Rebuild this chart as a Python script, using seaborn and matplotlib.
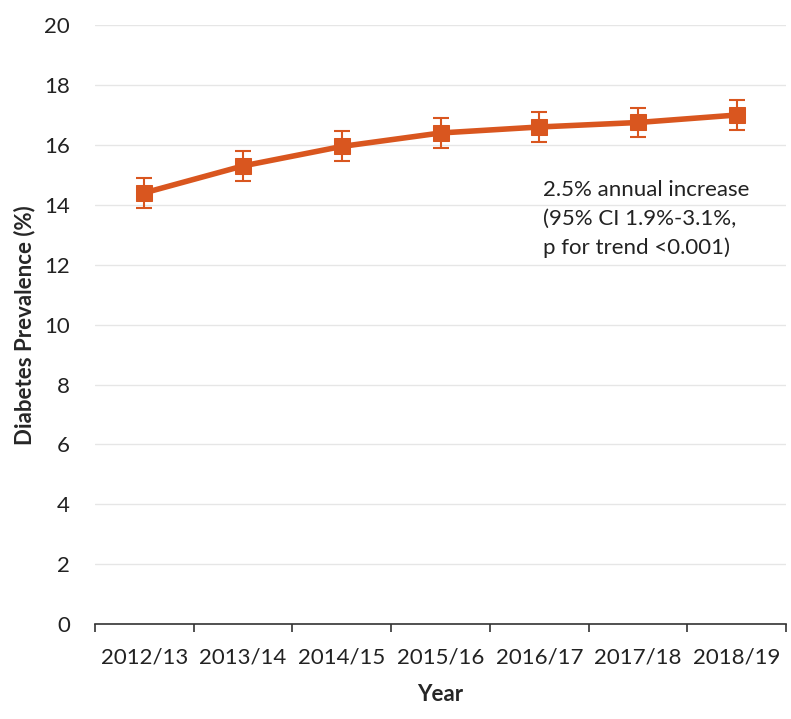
import matplotlib
matplotlib.use("Agg")
import matplotlib.pyplot as plt
import seaborn as sns
import pandas as pd
import numpy as np

years = ["2012/13", "2013/14", "2014/15", "2015/16", "2016/17", "2017/18", "2018/19"]
prevalence = [14.4, 15.3, 15.95, 16.4, 16.6, 16.75, 17.0]
ci_low = [13.9, 14.8, 15.45, 15.9, 16.1, 16.25, 16.5]
ci_high = [14.9, 15.8, 16.45, 16.9, 17.1, 17.25, 17.5]
yticks = [0, 2, 4, 6, 8, 10, 12, 14, 16, 18, 20]

sns.set_theme(style="white")
plt.rcParams['font.family'] = ['Lato', 'DejaVu Sans']

color = "#D9561F"
df = pd.DataFrame({"Year": years, "Prevalence": prevalence})

fig = plt.figure(figsize=(7.91, 7.19), dpi=100)
ax = fig.add_axes([0.120, 0.132, 0.874, 0.833])

x = np.arange(len(years))
err = [np.array(prevalence) - np.array(ci_low), np.array(ci_high) - np.array(prevalence)]
ax.errorbar(x, prevalence, yerr=err, fmt="none", ecolor=color, elinewidth=1.5,
            capsize=6, capthick=1.5, zorder=3)
sns.lineplot(data=df, x="Year", y="Prevalence", ax=ax, color=color, linewidth=4,
             marker="s", markersize=11, markeredgecolor=color, zorder=4, sort=False)

ax.set_xlim(-0.5, len(years) - 0.5)
ax.set_ylim(0, 20)
ax.set_yticks(yticks)
ax.set_yticklabels([str(t) for t in yticks], fontsize=16, color="#222222")
ax.set_xticks(x)
ax.set_xticklabels(years, fontsize=16, color="#222222")
ax.set_xticks(np.arange(-0.5, len(years)), minor=True)
ax.tick_params(axis="x", which="major", bottom=False, length=0, pad=17)
ax.tick_params(axis="x", which="minor", bottom=True, length=6, width=1.2,
               color="#333333", direction="out")
ax.tick_params(axis="y", length=0, pad=18)

ax.yaxis.grid(True, color="#E6E6E6", linewidth=1)
ax.set_axisbelow(True)
for s in ["top", "right", "left"]:
    ax.spines[s].set_visible(False)
ax.spines["bottom"].set_color("#333333")
ax.spines["bottom"].set_linewidth(1.2)

ax.set_xlabel("Year", fontsize=16, fontweight="bold", labelpad=12)
ax.set_ylabel("Diabetes Prevalence (%)", fontsize=16, fontweight="bold", labelpad=6)

ax.text(0.648, 0.742, "2.5% annual increase\n(95% CI 1.9%-3.1%,\np for trend <0.001)",
        transform=ax.transAxes, fontsize=16, va="top", ha="left", color="#222222",
        linespacing=1.55)

fig.savefig("out.png", dpi=100)
